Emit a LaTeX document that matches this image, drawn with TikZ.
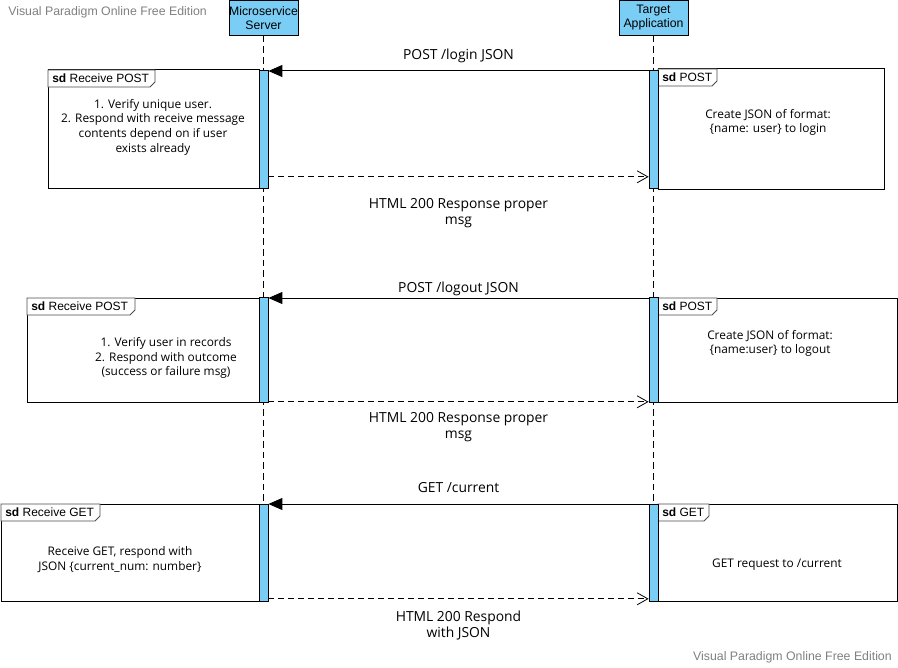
\documentclass[tikz,border=0pt]{standalone}
\usepackage{fontspec}
\setmainfont{Open Sans}
\newfontfamily\arialfont{Liberation Sans}
\usetikzlibrary{arrows.meta, positioning, backgrounds}
\definecolor{lifeblue}{RGB}{122,206,245}
\definecolor{markgray}{RGB}{128,128,128}

% frame with its "sd" tab: x0, y0, x1, y1, tab right edge
\newcommand{\sdframe}[5]{%
  \draw[sdbox] (#1,#2) rectangle (#3,#4);
  \draw[sdtab] (#1,#2) -- (#5,#2) -- (#5,#2+12) -- (#5-5,#2+17)
    -- (#1,#2+17) -- cycle;
}

\begin{document}
\begin{tikzpicture}[x=0.75pt, y=-0.75pt,
    head/.style={draw, fill=lifeblue, anchor=north, align=center,
                 font=\arialfont\fontsize{9.2}{10.5}\selectfont,
                 minimum width=51.75pt, minimum height=26.25pt, inner sep=0pt},
    life/.style={line width=0.75pt, dash pattern=on 5pt off 3pt},
    act/.style={draw, fill=lifeblue, anchor=north, line width=0.6pt,
                minimum width=6.75pt, minimum height=#1, inner sep=0pt},
    sdbox/.style={draw, line width=0.75pt},
    sdtab/.style={draw=black!70, fill=white, line width=0.6pt},
    tablbl/.style={anchor=west, inner sep=0pt,
                   font=\arialfont\fontsize{9}{10}\selectfont},
    body/.style={align=center, font=\fontsize{8.9}{11}\selectfont},
    msglbl/.style={align=center, font=\fontsize{10.4}{12.2}\selectfont},
    call/.style={-{Triangle[length=10.5pt, width=9pt]}, line width=0.75pt},
    reply/.style={-{Straight Barb[length=8pt, width=9pt]}, line width=0.6pt,
                  dash pattern=on 4.5pt off 3pt},
    wmark/.style={text=markgray, inner sep=0pt,
                  font=\arialfont\fontsize{9.25}{10}\selectfont},
]
\useasboundingbox (0,0) rectangle (898,667);

% watermarks
\node[wmark, anchor=west] (wmtop) at (8,12) {Visual Paradigm Online Free Edition};
\node[wmark, anchor=east] (wmbot) at (892,657) {Visual Paradigm Online Free Edition};

% lifeline heads
\node[head] (srv) at (263.5,0) {Microservice\\Server};
\node[head] (tgt) at (653.5,0) {Target\\Application};

% frames
\sdframe{48}{70}{259}{188}{155}
\node[tablbl] (tabA) at (52,78.5) {\textbf{sd} Receive POST};
\sdframe{658}{69}{884}{189}{717}
\node[tablbl] (tabB) at (662,77.5) {\textbf{sd} POST};
\sdframe{27}{298}{259}{402}{135}
\node[tablbl] (tabC) at (31,306.5) {\textbf{sd} Receive POST};
\sdframe{658}{298}{897.5}{402}{717}
\node[tablbl] (tabD) at (662,306.5) {\textbf{sd} POST};
\sdframe{1}{504}{259}{601}{100}
\node[tablbl] (tabE) at (5,512.5) {\textbf{sd} Receive GET};
\sdframe{658}{504}{897.5}{601}{709}
\node[tablbl] (tabF) at (662,512.5) {\textbf{sd} GET};

% frame contents
\node[body] (verify1) at (153,127)
  {1. Verify unique user.\\2. Respond with receive message\\
   contents depend on if user\\exists already};
\node[body] (login) at (768,122.5)
  {Create JSON of format:\\\{name: user\} to login};
\node[body] (verify2) at (166,358)
  {1. Verify user in records\\2. Respond with outcome\\
   (success or failure msg)};
\node[body] (logout) at (770,343.5)
  {Create JSON of format:\\\{name:user\} to logout};
\node[body] (recvget) at (120,559.5)
  {Receive GET, respond with\\JSON \{current\_num: number\}};
\node[body] (getreq) at (777,564.5) {GET request to /current};

% activations
\node[act=88.5pt]  (sA) at (263.5,70)  {};
\node[act=78.75pt] (sB) at (263.5,297) {};
\node[act=72.75pt] (sC) at (263.5,504) {};
\node[act=88.5pt]  (tA) at (653.5,70)  {};
\node[act=78.75pt] (tB) at (653.5,297) {};
\node[act=72.75pt] (tC) at (653.5,504) {};

\begin{scope}[on background layer]
  \draw[life] (srv.south) -- (sC.south);
  \draw[life] (tgt.south) -- (tC.south);
\end{scope}

% messages
\draw[call] ([yshift=-0.75pt]tA.north west) -- ([yshift=-0.75pt]sA.north east)
  node[msglbl, midway, yshift=11pt] {POST /login JSON};
\draw[reply] ([yshift=9pt]sA.south east) -- ([yshift=9pt]tA.south west)
  node[msglbl, midway, yshift=-27pt] {HTML 200 Response proper\\msg};
\draw[call] ([yshift=-0.75pt]tB.north west) -- ([yshift=-0.75pt]sB.north east)
  node[msglbl, midway, yshift=6.5pt] {POST /logout JSON};
\draw[reply] ([yshift=0.75pt]sB.south east) -- ([yshift=0.75pt]tB.south west)
  node[msglbl, midway, yshift=-18.75pt] {HTML 200 Response proper\\msg};
\draw[call] (tC.north west) -- (sC.north east)
  node[msglbl, midway, yshift=12pt] {GET /current};
\draw[reply] ([yshift=2.25pt]sC.south east) -- ([yshift=2.25pt]tC.south west)
  node[msglbl, midway, yshift=-20.25pt] {HTML 200 Respond\\with JSON};
\end{tikzpicture}
\end{document}
